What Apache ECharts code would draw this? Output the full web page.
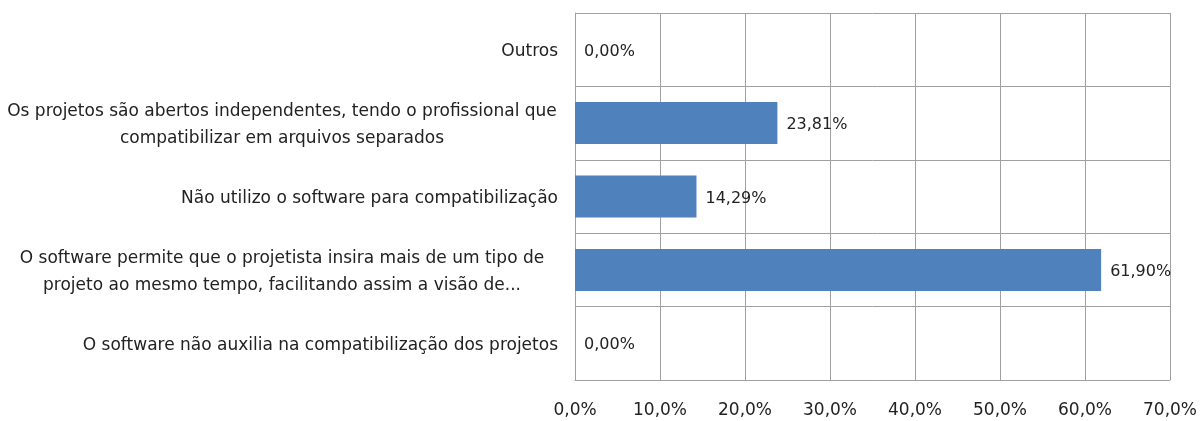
<!DOCTYPE html>
<html>
<head>
<meta charset="utf-8">
<script src="https://cdn.jsdelivr.net/npm/echarts@6/dist/echarts.min.js"></script>
<style>
html,body{margin:0;padding:0;background:#fff;}
#chart{width:1200px;height:421px;}
</style>
</head>
<body>
<div id="chart"></div>
<script>
// categorias (de cima para baixo)
var categorias = [
	'Outros',
	'Os projetos são abertos independentes, tendo o profissional que\ncompatibilizar em arquivos separados',
	'Não utilizo o software para compatibilização',
	'O software permite que o projetista insira mais de um tipo de\nprojeto ao mesmo tempo, facilitando assim a visão de...',
	'O software não auxilia na compatibilização dos projetos'
];
// percentuais
var valores = [0, 23.81, 14.29, 61.90, 0];
var eixoMin = 0;
var eixoMax = 70;
var eixoPasso = 10;

var fonte = 'DejaVu Sans';
var cinza = '#a0a0a0';

var myChart = echarts.init(document.getElementById('chart'));
var option = {
	animation: false,
	grid: {left: 575, right: 30, top: 13, bottom: 41},
	xAxis: {
		type: 'value',
		min: eixoMin,
		max: eixoMax,
		interval: eixoPasso,
		axisLine: {show: true, lineStyle: {color: cinza}},
		axisTick: {show: false},
		splitLine: {show: true, lineStyle: {color: cinza, width: 1}},
		axisLabel: {
			margin: 22,
			color: '#222',
			fontFamily: fonte,
			fontSize: 17,
			formatter: function(v){
				return v.toFixed(1).replace('.', ',') + '%';
			}
		}
	},
	yAxis: {
		type: 'category',
		inverse: true,
		data: categorias,
		axisLine: {show: true, lineStyle: {color: cinza}},
		axisTick: {show: false},
		splitLine: {show: true, lineStyle: {color: cinza, width: 1}},
		axisLabel: {
			margin: 17,
			color: '#222',
			fontFamily: fonte,
			fontSize: 17,
			lineHeight: 27,
			padding: [4, 0, 0, 0],
			formatter: function(v){
				if(v.indexOf('\n') < 0) return v;
				return v.split('\n').map(function(l){ return '{c|' + l + '}'; }).join('\n');
			},
			rich: {
				c: {width: 552, align: 'center', fontFamily: fonte, fontSize: 17, color: '#222', lineHeight: 27}
			}
		}
	},
	series: [{
		type: 'bar',
		data: valores,
		barWidth: 42,
		itemStyle: {color: '#4f81bd'},
		label: {
			show: true,
			position: 'right',
			distance: 9,
			offset: [0, 2],
			color: '#222',
			fontFamily: fonte,
			fontSize: 16,
			formatter: function(p){
				return p.value.toFixed(2).replace('.', ',') + '%';
			}
		}
	}]
};
myChart.setOption(option);
</script>
</body>
</html>
